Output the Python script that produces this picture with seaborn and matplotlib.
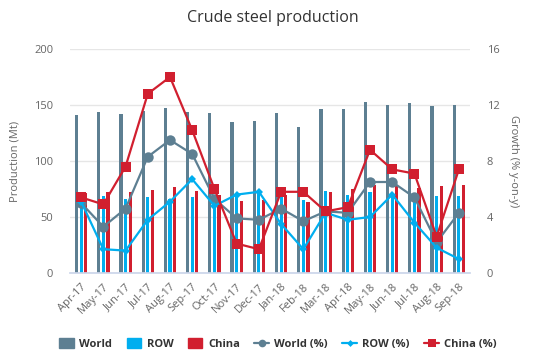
import numpy as np
import pandas as pd
import matplotlib
matplotlib.use("Agg")
import matplotlib.pyplot as plt
from matplotlib.lines import Line2D
from matplotlib.patches import Patch
import seaborn as sns

# Data
months = ["Apr-17", "May-17", "Jun-17", "Jul-17", "Aug-17", "Sep-17", "Oct-17", "Nov-17", "Dec-17",
          "Jan-18", "Feb-18", "Mar-18", "Apr-18", "May-18", "Jun-18", "Jul-18", "Aug-18", "Sep-18"]
world = [141, 144, 142, 145, 147, 144, 143, 135, 136, 143, 130, 146, 146, 153, 150, 152, 149, 150]
row = [64, 69, 66, 68, 66, 68, 62, 71, 72, 70, 65, 73, 70, 72, 70, 69, 69, 69]
china = [71, 72, 72, 74, 77, 73, 70, 64, 65, 70, 63, 72, 75, 79, 78, 76, 78, 79]
world_pct = [5.0, 3.3, 4.6, 8.3, 9.5, 8.5, 5.3, 3.9, 3.8, 4.6, 3.7, 4.4, 4.3, 6.5, 6.5, 5.4, 2.2, 4.3]
row_pct = [5.1, 1.7, 1.6, 3.8, 5.1, 6.7, 4.8, 5.6, 5.8, 3.5, 1.7, 4.3, 3.8, 4.0, 5.6, 3.6, 1.8, 1.0]
china_pct = [5.4, 4.9, 7.6, 12.8, 14.0, 10.2, 6.0, 2.1, 1.7, 5.8, 5.8, 4.4, 4.7, 8.8, 7.4, 7.1, 2.6, 7.4]

c_world = "#5d7f92"
c_row = "#00aeef"
c_china = "#d11f2f"
grey = "#666666"

sns.set_theme(style="white")
plt.rcParams["font.family"] = ["Open Sans", "DejaVu Sans"]

bars = pd.DataFrame({
    "month": months * 3,
    "value": world + row + china,
    "series": ["World"] * 18 + ["ROW"] * 18 + ["China"] * 18,
})

fig = plt.figure(figsize=(5.35, 3.56), dpi=100)
ax = fig.add_axes([70 / 535, 1 - 273 / 356, 400 / 535, 224 / 356])

sns.barplot(data=bars, x="month", y="value", hue="series", order=months,
            hue_order=["World", "ROW", "China"],
            palette=[c_world, c_row, c_china], width=0.62, gap=0.3,
            saturation=1, linewidth=0, legend=False, ax=ax)

ax.set_ylim(0, 200)
ax.set_yticks([0, 50, 100, 150, 200])
ax.set_xlim(-0.5, 17.5)
ax.yaxis.grid(True, color="#e6e6e6", linewidth=1)
ax.set_axisbelow(True)
for s in ["top", "left", "right"]:
    ax.spines[s].set_visible(False)
ax.spines["bottom"].set_color("#ccd6eb")
ax.set_xlabel("")
ax.set_ylabel("Production (Mt)", color=grey, fontsize=8, labelpad=10)
ax.tick_params(axis="y", length=0, labelcolor=grey, labelsize=8, pad=12)
ax.set_xticks(range(18))
ax.set_xticklabels(months, rotation=45, ha="right", rotation_mode="anchor",
                   color=grey, fontsize=8)
ax.tick_params(axis="x", length=0, pad=6)
ax.set_xticks(np.arange(-0.5, 18, 1), minor=True)
ax.tick_params(axis="x", which="minor", length=5, color="#ccd6eb", width=1)

ax2 = ax.twinx()
x = np.arange(18)
sns.lineplot(x=x, y=world_pct, color=c_world, marker="o", markersize=7.5,
             markeredgewidth=0, linewidth=1.6, ax=ax2)
sns.lineplot(x=x, y=row_pct, color=c_row, marker="D", markersize=4.5,
             markeredgewidth=0, linewidth=1.6, ax=ax2)
sns.lineplot(x=x, y=china_pct, color=c_china, marker="s", markersize=7,
             markeredgewidth=0, linewidth=1.6, ax=ax2)
ax2.set_ylim(0, 16)
ax2.set_yticks([0, 4, 8, 12, 16])
ax2.set_xlim(-0.5, 17.5)
for s in ["top", "left", "right", "bottom"]:
    ax2.spines[s].set_visible(False)
ax2.tick_params(axis="y", length=0, labelcolor=grey, labelsize=8, pad=12)
ax2.set_ylabel("Growth (% y-on-y)", color=grey, fontsize=8, rotation=270, labelpad=14)

fig.suptitle("Crude steel production", x=0.51, y=0.972, fontsize=11.5, color="#333333")

handles = [
    Patch(color=c_world, label="World"),
    Patch(color=c_row, label="ROW"),
    Patch(color=c_china, label="China"),
    Line2D([], [], color=c_world, marker="o", markersize=5.5, markeredgewidth=0, lw=1.6, label="World (%)"),
    Line2D([], [], color=c_row, marker="D", markersize=3.5, markeredgewidth=0, lw=1.6, label="ROW (%)"),
    Line2D([], [], color=c_china, marker="s", markersize=5.5, markeredgewidth=0, lw=1.6, label="China (%)"),
]
fig.legend(handles=handles, loc="center", bbox_to_anchor=(0.52, 1 - 344 / 356), ncol=6,
           frameon=False, prop={"weight": "bold", "size": 8}, labelcolor="#333333",
           handlelength=1.3, handleheight=1.0, columnspacing=1.3, handletextpad=0.5)

fig.savefig("out.png", dpi=100)
